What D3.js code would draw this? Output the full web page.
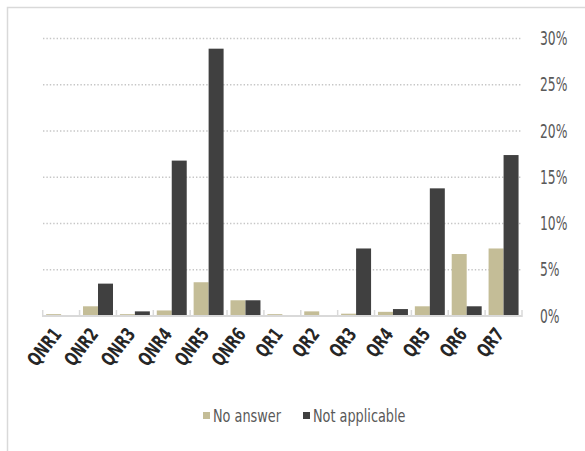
<!DOCTYPE html>
<html>
<head>
<meta charset="utf-8">
<script src="https://cdn.jsdelivr.net/npm/d3@7"></script>
<style>
  body { margin: 0; background: #fff; }
  svg text { font-family: "DejaVu Sans Condensed", "DejaVu Sans", sans-serif; }
</style>
</head>
<body>
<div id="chart"></div>
<script>
const categories = ["QNR1", "QNR2", "QNR3", "QNR4", "QNR5", "QNR6", "QR1", "QR2", "QR3", "QR4", "QR5", "QR6", "QR7"];
const seriesNames = ["No answer", "Not applicable"];
const noAnswer = [0.2, 1.05, 0.2, 0.6, 3.65, 1.7, 0.2, 0.5, 0.25, 0.45, 1.05, 6.7, 7.3];
const notApplicable = [0, 3.5, 0.5, 16.8, 28.9, 1.7, 0, 0, 7.3, 0.75, 13.8, 1.05, 17.4];
const yTicks = [0, 5, 10, 15, 20, 25, 30];

const width = 585;
const height = 451;
const colors = ["#c4bd97", "#404040"];

// the original uses a very narrow face, so squeeze the glyphs horizontally
function squeeze(sel, k) {
  sel.each(function () {
    const w = this.getComputedTextLength();
    d3.select(this)
      .attr("textLength", w * k)
      .attr("lengthAdjust", "spacingAndGlyphs");
  });
}

const svg = d3.select("#chart")
  .append("svg")
  .attr("width", width)
  .attr("height", height);

// outer frame (right/bottom edges fall outside the window)
svg.append("rect")
  .attr("x", 7.5)
  .attr("y", 7.5)
  .attr("width", 620)
  .attr("height", 470)
  .attr("fill", "none")
  .attr("stroke", "#d9d9d9")
  .attr("stroke-width", 1.5);

const x = d3.scaleBand()
  .domain(categories)
  .range([42.7, 522]);

const xInner = d3.scaleBand()
  .domain(seriesNames)
  .range([0, x.bandwidth()])
  .paddingOuter(0.23);

const y = d3.scaleLinear()
  .domain([0, 30])
  .range([316, 38.5]);

// gridlines
svg.append("g")
  .selectAll("line")
  .data(yTicks.filter(d => d > 0))
  .enter()
  .append("line")
  .attr("x1", 43)
  .attr("x2", 522)
  .attr("y1", d => y(d))
  .attr("y2", d => y(d))
  .attr("stroke", "#c6c6c6")
  .attr("stroke-width", 1.4)
  .attr("stroke-dasharray", "1.4 2");

// bars
const rows = categories.map((c, i) => ({ cat: c, values: [noAnswer[i], notApplicable[i]] }));

svg.append("g")
  .selectAll("g")
  .data(rows)
  .enter()
  .append("g")
  .attr("transform", d => `translate(${x(d.cat)},0)`)
  .selectAll("rect")
  .data(d => d.values.map((v, j) => ({ name: seriesNames[j], value: v, j })))
  .enter()
  .append("rect")
  .attr("x", d => xInner(d.name))
  .attr("width", xInner.bandwidth())
  .attr("y", d => y(d.value))
  .attr("height", d => y(0) - y(d.value))
  .attr("fill", d => colors[d.j]);

// category axis line and boundary ticks
const bounds = categories.map(c => x(c)).concat([x.range()[1]]);
svg.append("line")
  .attr("x1", x.range()[0])
  .attr("x2", x.range()[1])
  .attr("y1", y(0))
  .attr("y2", y(0))
  .attr("stroke", "#d9d9d9")
  .attr("stroke-width", 2);

svg.append("g")
  .selectAll("line")
  .data(bounds)
  .enter()
  .append("line")
  .attr("x1", d => d)
  .attr("x2", d => d)
  .attr("y1", y(0) - 6)
  .attr("y2", y(0) + 1)
  .attr("stroke", "#d9d9d9")
  .attr("stroke-width", 1.5);

// category labels
const xAxis = d3.axisBottom(x).tickSize(0).tickPadding(0);
const gx = svg.append("g")
  .attr("transform", `translate(0,${y(0)})`)
  .call(xAxis);
gx.select(".domain").remove();
gx.selectAll("text")
  .attr("fill", "#262626")
  .attr("font-size", 19)
  .attr("font-weight", "bold")
  .attr("text-anchor", "end")
  .attr("dy", null)
  .attr("y", 0)
  .attr("x", 0)
  .attr("dominant-baseline", "middle")
  .attr("transform", "translate(-3,15) rotate(-52)")
  .call(squeeze, 0.78);

// value axis on the right
const yAxis = d3.axisRight(y)
  .tickValues(yTicks)
  .tickSize(0)
  .tickPadding(0)
  .tickFormat(d => d + "%");
const gy = svg.append("g")
  .attr("transform", "translate(540,0)")
  .call(yAxis);
gy.select(".domain").remove();
gy.selectAll("text")
  .attr("fill", "#595959")
  .attr("font-size", 19)
  .call(squeeze, 0.72);

// legend
const legend = svg.append("g").attr("transform", "translate(203,416)");
const legendX = [0, 100];
seriesNames.forEach((name, i) => {
  const g = legend.append("g").attr("transform", `translate(${legendX[i]},0)`);
  g.append("rect")
    .attr("x", 0)
    .attr("y", -4)
    .attr("width", 7)
    .attr("height", 7)
    .attr("fill", colors[i]);
  g.append("text")
    .attr("x", 10)
    .attr("y", 0)
    .attr("dy", "0.35em")
    .attr("fill", "#595959")
    .attr("font-size", 17)
    .text(name)
    .call(squeeze, 0.84);
});
</script>
</body>
</html>
